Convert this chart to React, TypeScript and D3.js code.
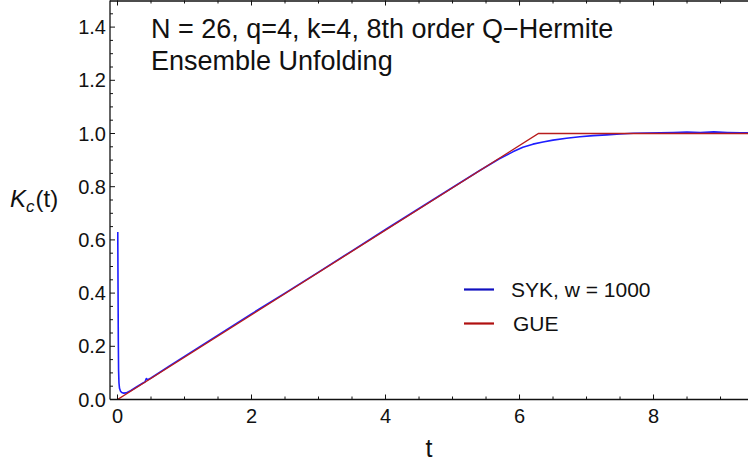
import React, { useRef, useEffect } from 'react';
import * as d3 from 'd3';

// SYK spectral form factor (t, K)
const sykT = [0.004, 0.008, 0.012, 0.016, 0.022, 0.03, 0.045, 0.065, 0.09, 0.13, 0.2, 0.3, 0.38, 0.41, 0.43, 0.45, 0.5, 0.8, 1.2, 1.6, 2.0, 2.5, 3.0, 3.5, 4.0, 4.5, 5.0, 5.4, 5.7, 5.9, 6.05, 6.2, 6.35, 6.5, 6.7, 6.9, 7.1, 7.3, 7.5, 7.7, 7.9, 8.1, 8.3, 8.5, 8.7, 8.9, 9.1, 9.3, 9.5];
const sykK = [0.63, 0.42, 0.22, 0.11, 0.062, 0.042, 0.031, 0.026, 0.024, 0.025, 0.034, 0.05, 0.062, 0.066, 0.079, 0.074, 0.081, 0.13, 0.194, 0.258, 0.322, 0.4, 0.479, 0.559, 0.639, 0.718, 0.797, 0.86, 0.905, 0.931, 0.948, 0.96, 0.968, 0.975, 0.982, 0.988, 0.992, 0.995, 0.998, 1.001, 1.002, 1.003, 1.004, 1.005, 1.004, 1.006, 1.004, 1.003, 1.002];

// GUE form factor corner points
const gueT = [0, 6.283, 9.5];
const gueK = [0, 1, 1];

const xMajor = [0, 2, 4, 6, 8];
const yMajor = [0, 0.2, 0.4, 0.6, 0.8, 1.0, 1.2, 1.4];

const legendNames = ['SYK, w = 1000', 'GUE'];

const blue = '#1e1eff';
const red = '#b81d1d';
const font = '"Liberation Sans", Arial, sans-serif';

export default function App() {
  const svgRef = useRef<SVGSVGElement>(null);

  useEffect(() => {
    const W = 748, H = 463;
    const left = 110, right = 748, top = 0.5, bottom = 399.5;
    const svg = d3.select(svgRef.current);
    svg.selectAll('*').remove();
    svg.attr('width', W).attr('height', H).style('background', '#fff');

    const x = d3.scaleLinear().domain([-0.112, 9.41]).range([left, right]);
    const y = d3.scaleLinear().domain([0, 1.5]).range([bottom, top]);

    svg.append('clipPath').attr('id', 'plotclip')
      .append('rect').attr('x', left).attr('y', top).attr('width', right - left).attr('height', bottom - top);

    const line = d3.line<[number, number]>().x(d => x(d[0])).y(d => y(d[1]));

    const g = svg.append('g').attr('clip-path', 'url(#plotclip)');
    g.append('path')
      .datum(sykT.map((t, i) => [t, sykK[i]] as [number, number]))
      .attr('d', line).attr('fill', 'none').attr('stroke', blue).attr('stroke-width', 1.6)
      .attr('stroke-linejoin', 'round');
    g.append('path')
      .datum(gueT.map((t, i) => [t, gueK[i]] as [number, number]))
      .attr('d', line).attr('fill', 'none').attr('stroke', red).attr('stroke-width', 1.4);

    // frame
    const axisColor = '#111';
    svg.append('line').attr('x1', left).attr('x2', right).attr('y1', bottom).attr('y2', bottom)
      .attr('stroke', axisColor).attr('stroke-width', 1.3);
    svg.append('line').attr('x1', left).attr('x2', right).attr('y1', top + 0.5).attr('y2', top + 0.5)
      .attr('stroke', axisColor).attr('stroke-width', 1.3);
    svg.append('line').attr('x1', left).attr('x2', left).attr('y1', top).attr('y2', bottom)
      .attr('stroke', axisColor).attr('stroke-width', 1.3);

    // x ticks (bottom and top, inward)
    const xMinor = d3.range(0, 9.5, 0.5).filter(v => !xMajor.includes(v));
    const tg = svg.append('g').attr('stroke', axisColor).attr('stroke-width', 1);
    xMajor.forEach(v => {
      tg.append('line').attr('x1', x(v)).attr('x2', x(v)).attr('y1', bottom).attr('y2', bottom - 5);
      tg.append('line').attr('x1', x(v)).attr('x2', x(v)).attr('y1', top).attr('y2', top + 5);
    });
    xMinor.forEach(v => {
      tg.append('line').attr('x1', x(v)).attr('x2', x(v)).attr('y1', bottom).attr('y2', bottom - 3);
      tg.append('line').attr('x1', x(v)).attr('x2', x(v)).attr('y1', top).attr('y2', top + 3);
    });
    const yMinor = d3.range(0, 1.5, 0.05).filter(v => !yMajor.some(m => Math.abs(m - v) < 1e-6));
    yMajor.forEach(v => {
      tg.append('line').attr('x1', left).attr('x2', left + 5).attr('y1', y(v)).attr('y2', y(v));
    });
    yMinor.forEach(v => {
      tg.append('line').attr('x1', left).attr('x2', left + 3).attr('y1', y(v)).attr('y2', y(v));
    });

    // tick labels
    svg.append('g').selectAll('text').data(xMajor).join('text')
      .attr('x', d => x(d)).attr('y', bottom + 23)
      .attr('text-anchor', 'middle').attr('font-family', font).attr('font-size', 20).attr('fill', '#111')
      .text(d => String(d));
    svg.append('g').selectAll('text').data(yMajor).join('text')
      .attr('x', left - 4).attr('y', d => y(d) + 7)
      .attr('text-anchor', 'end').attr('font-family', font).attr('font-size', 20).attr('fill', '#111')
      .text(d => d.toFixed(1));

    // axis labels
    svg.append('text').attr('x', (left + right) / 2).attr('y', 457)
      .attr('text-anchor', 'middle').attr('font-family', font).attr('font-size', 25).attr('fill', '#111')
      .text('t');
    const kl = svg.append('text').attr('x', 10).attr('y', 207)
      .attr('font-family', font).attr('font-size', 24).attr('fill', '#111');
    kl.append('tspan').attr('font-style', 'italic').text('K');
    kl.append('tspan').attr('font-style', 'italic').attr('font-size', 17).attr('dy', 5).text('c');
    kl.append('tspan').attr('dy', -5).attr('dx', 1).text('(t)');

    // title
    const title = svg.append('text').attr('font-family', font).attr('font-size', 27).attr('fill', '#111');
    title.append('tspan').attr('x', 151).attr('y', 38).text('N = 26, q=4, k=4, 8th order Q\u2212Hermite');
    title.append('tspan').attr('x', 151).attr('y', 70).text('Ensemble Unfolding');

    // legend
    const legend = svg.append('g');
    const ly = [289.5, 323.5];
    legendNames.forEach((name, i) => {
      legend.append('line').attr('x1', 464).attr('x2', 494).attr('y1', ly[i]).attr('y2', ly[i])
        .attr('stroke', i === 0 ? '#1010c0' : '#b01010').attr('stroke-width', 2.2);
      legend.append('text').attr('x', i === 0 ? 511 : 513).attr('y', ly[i] + 7.5)
        .attr('font-family', font).attr('font-size', 21).attr('fill', '#111').text(name);
    });
  }, []);

  return <svg ref={svgRef} style={{ position: 'absolute', left: 0, top: 0 }} />;
}
